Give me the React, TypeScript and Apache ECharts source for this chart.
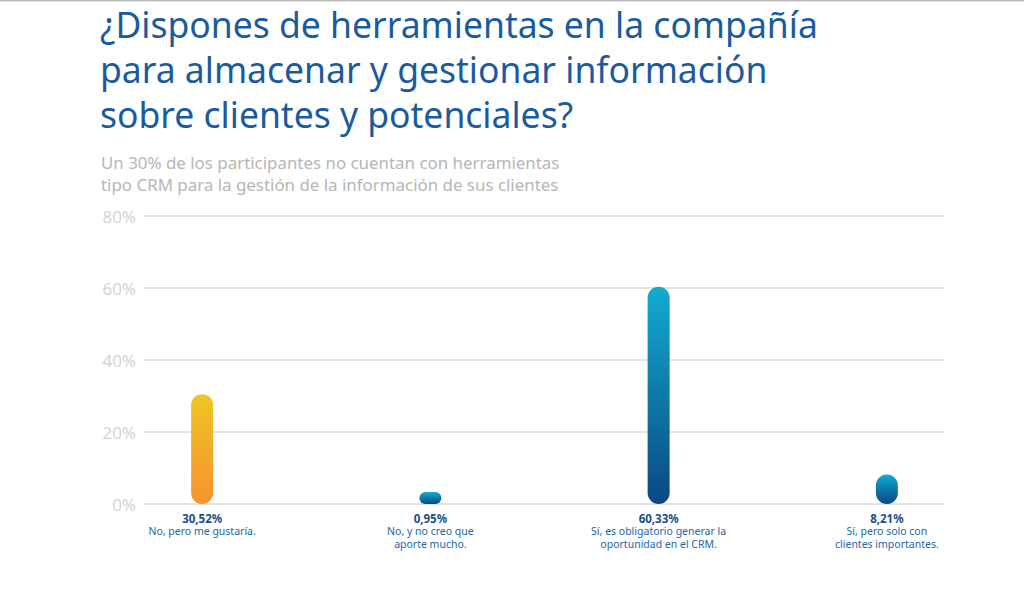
import React, { useEffect, useRef } from "react";
import * as echarts from "echarts";

const titleLines = [
  "¿Dispones de herramientas en la compañía",
  "para almacenar y gestionar información",
  "sobre clientes y potenciales?",
];
const subtitleLines = [
  "Un 30% de los participantes no cuentan con herramientas",
  "tipo CRM para la gestión de la información de sus clientes",
];
const categories = [
  "No, pero me gustaría.",
  "No, y no creo que\naporte mucho.",
  "Sí, es obligatorio generar la\noportunidad en el CRM.",
  "Sí, pero solo con\nclientes importantes.",
];
const values = [30.52, 0.95, 60.33, 8.21];
const valueLabels = ["30,52%", "0,95%", "60,33%", "8,21%"];
const yTicks = [0, 20, 40, 60, 80];

const warm = new echarts.graphic.LinearGradient(0, 0, 0, 1, [
  { offset: 0, color: "#ecc624" },
  { offset: 1, color: "#f8922f" },
]);
const cool = () =>
  new echarts.graphic.LinearGradient(0, 0, 0, 1, [
    { offset: 0, color: "#12abd0" },
    { offset: 1, color: "#0a4882" },
  ]);

export default function App() {
  const ref = useRef<HTMLDivElement>(null);
  useEffect(() => {
    if (!ref.current) return;
    const chart = echarts.init(ref.current, null, { renderer: "svg" });
    const top = 216;
    const height = 288;
    chart.setOption({
      animation: false,
      backgroundColor: "#ffffff",
      textStyle: { fontFamily: "Noto Sans" },
      graphic: [
        {
          type: "rect",
          left: 0,
          top: 0,
          shape: { width: 1024, height: 1.5 },
          style: { fill: "#bdbdbd" },
        },
        {
          type: "text",
          left: 100,
          top: 1,
          style: {
            text: titleLines.join("\n"),
            fill: "#1b5b9d",
            font: '35.5px "Noto Sans"',
            lineHeight: 45,
          },
        },
        {
          type: "text",
          left: 101,
          top: 151,
          style: {
            text: subtitleLines.join("\n"),
            fill: "#b6b6b6",
            font: '16.9px "Noto Sans"',
            lineHeight: 22,
          },
        },
      ],
      grid: [
        { left: 144, right: 80, top, height },
        { left: 88, right: 23, top, height },
      ],
      xAxis: [
        { type: "category", gridIndex: 0, data: categories, show: false },
        {
          type: "category",
          gridIndex: 1,
          data: categories,
          axisLine: { show: false },
          axisTick: { show: false },
          axisLabel: {
            margin: 8,
            interval: 0,
            formatter: (v: string, i: number) =>
              `{v|${valueLabels[i]}}\n` +
              v
                .split("\n")
                .map((s) => `{n|${s}}`)
                .join("\n"),
            rich: {
              v: {
                fontFamily: "Noto Sans",
                fontSize: 11.5,
                fontWeight: "bold",
                color: "#174f8b",
                lineHeight: 13,
              },
              n: {
                fontFamily: "Noto Sans",
                fontSize: 10.5,
                color: "#2166ab",
                lineHeight: 12.5,
              },
            },
          },
        },
      ],
      yAxis: [
        {
          type: "value",
          gridIndex: 0,
          min: yTicks[0],
          max: yTicks[yTicks.length - 1],
          interval: 20,
          axisLine: { show: false },
          axisTick: { show: false },
          axisLabel: {
            formatter: "{value}%",
            color: "#d4d4d4",
            fontSize: 17,
            margin: 8,
            fontFamily: "Noto Sans",
          },
          splitLine: { lineStyle: { color: "#e2e2e2", width: 2 } },
        },
        {
          type: "value",
          gridIndex: 1,
          min: yTicks[0],
          max: yTicks[yTicks.length - 1],
          interval: 20,
          show: false,
          splitLine: { show: false },
        },
      ],
      series: [
        {
          type: "bar",
          xAxisIndex: 1,
          yAxisIndex: 1,
          barWidth: 22,
          barMinHeight: 12,
          z: 3,
          data: values.map((v, i) => ({
            value: v,
            itemStyle: { color: i === 0 ? warm : cool(), borderRadius: 11 },
          })),
        },
      ],
    });
    return () => chart.dispose();
  }, []);
  return (
    <div
      ref={ref}
      style={{ position: "fixed", left: 0, top: 0, width: 1024, height: 592 }}
    />
  );
}
